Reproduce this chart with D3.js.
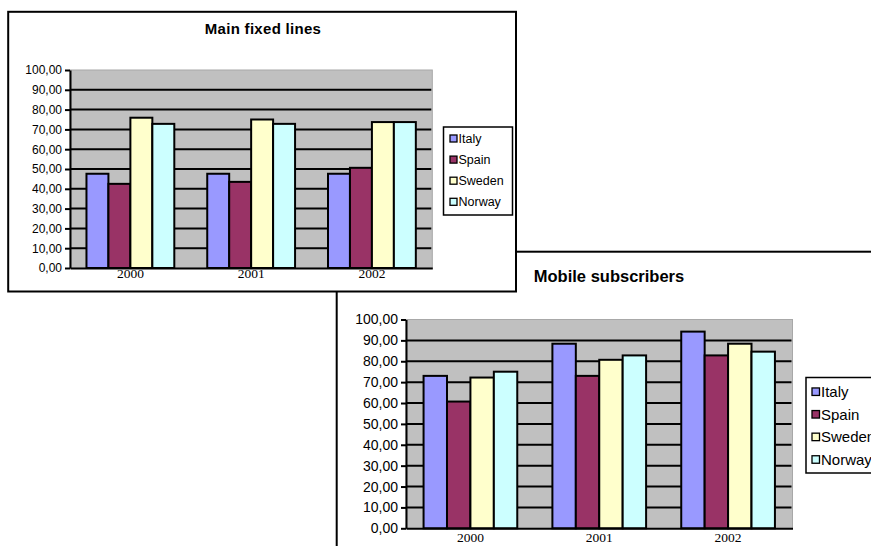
<!DOCTYPE html>
<html>
<head>
<meta charset="utf-8">
<script src="https://cdn.jsdelivr.net/npm/d3@7"></script>
<style>
  html, body { margin: 0; padding: 0; background: #fff; }
  svg { display: block; }
</style>
</head>
<body>
<svg id="chart" width="871" height="546"></svg>
<script>
// ---- Data ----
const categories = ["2000", "2001", "2002"];
const seriesNames = ["Italy", "Spain", "Sweden", "Norway"];
const seriesColors = ["#9999FF", "#993366", "#FFFFCC", "#CCFFFF"];
const yTickValues = [0, 10, 20, 30, 40, 50, 60, 70, 80, 90, 100];

const fixedItaly  = [47.6, 47.6, 47.6];
const fixedSpain  = [42.5, 43.5, 50.6];
const fixedSweden = [75.9, 75.0, 73.7];
const fixedNorway = [72.8, 72.8, 73.7];

const mobileItaly  = [73.0, 88.4, 94.2];
const mobileSpain  = [60.7, 73.0, 82.8];
const mobileSweden = [72.2, 80.7, 88.4];
const mobileNorway = [75.0, 82.8, 84.6];

const svg = d3.select("#chart");
const fmt = d => d3.format(".2f")(d).replace(".", ",");

function drawChart(cfg) {
  const g = svg.append("g");
  // Outer chart box
  g.append("rect")
    .attr("x", cfg.box[0]).attr("y", cfg.box[1])
    .attr("width", cfg.box[2]).attr("height", cfg.box[3])
    .attr("fill", "#fff").attr("stroke", "#000").attr("stroke-width", 2);

  // Title
  g.append("text")
    .attr("x", cfg.titleX).attr("y", cfg.titleY)
    .attr("text-anchor", "middle")
    .attr("font-family", "Liberation Sans, Arial, sans-serif")
    .attr("font-weight", "bold")
    .attr("font-size", cfg.titleSize)
    .attr("letter-spacing", cfg.titleSpacing || 0)
    .text(cfg.title);

  const [x0, y0, x1, y1] = cfg.plot; // left, top, right, bottom
  const y = d3.scaleLinear().domain([0, 100]).range([y1, y0]);
  const x = d3.scaleBand().domain(categories).range([x0, x1])
    .paddingInner(1.5 / 5.5).paddingOuter(0.75 / 5.5);
  const xs = d3.scaleBand().domain(seriesNames).range([0, x.bandwidth()]);

  // Plot area
  g.append("rect")
    .attr("x", x0).attr("y", y0).attr("width", x1 - x0).attr("height", y1 - y0)
    .attr("fill", "#C0C0C0").attr("stroke", "#A8A8A8").attr("stroke-width", 1);

  // Grid lines
  g.append("g").selectAll("line")
    .data(yTickValues.filter(v => v > 0 && v < 100))
    .join("line")
    .attr("x1", x0).attr("x2", x1 - 1)
    .attr("y1", d => y(d)).attr("y2", d => y(d))
    .attr("stroke", "#000").attr("stroke-width", 2);

  // Bars
  const values = cfg.values;
  const grp = g.append("g").selectAll("g")
    .data(categories)
    .join("g")
    .attr("transform", c => `translate(${x(c)},0)`);
  grp.selectAll("rect")
    .data((c, ci) => seriesNames.map((s, si) => ({ s, si, v: values[si][ci] })))
    .join("rect")
    .attr("x", d => xs(d.s))
    .attr("width", xs.bandwidth())
    .attr("y", d => y(d.v))
    .attr("height", d => y(0) - y(d.v))
    .attr("fill", d => seriesColors[d.si])
    .attr("stroke", "#000").attr("stroke-width", 2);

  // Y axis
  const ya = g.append("g")
    .attr("transform", `translate(${x0},0)`)
    .call(d3.axisLeft(y).tickValues(yTickValues).tickFormat(fmt).tickSize(5).tickSizeOuter(0));
  ya.select(".domain").attr("stroke", "#000").attr("stroke-width", 2);
  ya.selectAll(".tick line").attr("stroke", "#000").attr("stroke-width", 2);
  ya.selectAll(".tick text")
    .attr("x", -cfg.labelGap)
    .attr("font-family", "Liberation Sans, Arial, sans-serif")
    .attr("font-size", cfg.axisSize)
    .attr("fill", "#000");

  // X axis
  const xa = g.append("g")
    .attr("transform", `translate(0,${y1})`)
    .call(d3.axisBottom(x).tickSize(0).tickSizeOuter(0));
  xa.select(".domain").attr("stroke", "#000").attr("stroke-width", 2);
  xa.selectAll(".tick text")
    .attr("y", cfg.catDy)
    .attr("dy", 0)
    .attr("font-family", "Liberation Serif, Times New Roman, serif")
    .attr("font-size", cfg.catSize)
    .attr("fill", "#000");

  // Legend
  const [lx, ly, lw, lh] = cfg.legend;
  g.append("rect")
    .attr("x", lx).attr("y", ly).attr("width", lw).attr("height", lh)
    .attr("fill", "#fff").attr("stroke", "#000").attr("stroke-width", 1.5);
  const li = g.append("g").selectAll("g")
    .data(seriesNames)
    .join("g")
    .attr("transform", (d, i) => `translate(${lx + cfg.legPad},${cfg.legY0 + i * cfg.legStep})`);
  li.append("rect")
    .attr("x", 0).attr("y", -cfg.sw / 2)
    .attr("width", cfg.sw).attr("height", cfg.sw)
    .attr("fill", (d, i) => seriesColors[i])
    .attr("stroke", "#000").attr("stroke-width", 1.3);
  li.append("text")
    .attr("x", cfg.sw + 1.5).attr("y", 0).attr("dy", "0.36em")
    .attr("font-family", "Liberation Sans, Arial, sans-serif")
    .attr("font-size", cfg.legSize)
    .text(d => d);
}

// Bottom chart first (it sits behind)
drawChart({
  box: [336.7, 251.7, 600, 400],
  title: "Mobile subscribers",
  titleX: 609, titleY: 282, titleSize: 16.5,
  plot: [406, 319.5, 792.5, 528.3],
  values: [mobileItaly, mobileSpain, mobileSweden, mobileNorway],
  axisSize: 14, labelGap: 8,
  catSize: 13.5, catDy: 14,
  legend: [806, 377.5, 90, 95.5],
  legPad: 6, legY0: 391.7, legStep: 22.6, sw: 7.5, legSize: 15
});

// Top chart
drawChart({
  box: [8.2, 11.8, 507.8, 279.7],
  title: "Main fixed lines",
  titleX: 263, titleY: 34, titleSize: 15, titleSpacing: 0.3,
  plot: [70, 70, 432.3, 268],
  values: [fixedItaly, fixedSpain, fixedSweden, fixedNorway],
  axisSize: 12, labelGap: 8,
  catSize: 13.5, catDy: 10,
  legend: [443.5, 127, 69, 88],
  legPad: 6.5, legY0: 138.5, legStep: 21.1, sw: 7, legSize: 12.5
});
</script>
</body>
</html>
